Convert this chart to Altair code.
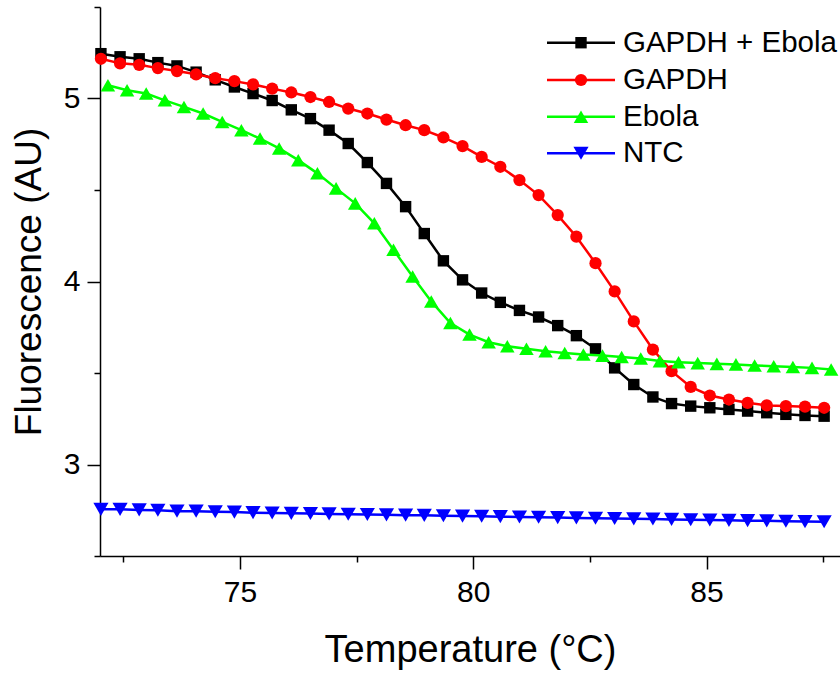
import altair as alt
import pandas as pd

# ---- data ----
temp = [72.02, 72.43, 72.84, 73.24, 73.65, 74.06, 74.47, 74.88, 75.28, 75.69,
        76.10, 76.51, 76.91, 77.32, 77.73, 78.14, 78.55, 78.95, 79.36, 79.77,
        80.18, 80.58, 80.99, 81.40, 81.81, 82.21, 82.62, 83.03, 83.44, 83.85,
        84.25, 84.66, 85.07, 85.48, 85.88, 86.29, 86.70, 87.11, 87.52]

temp_ebola = [72.17, 72.58, 72.99, 73.39, 73.80, 74.21, 74.62, 75.03, 75.43, 75.84,
              76.25, 76.66, 77.06, 77.47, 77.88, 78.29, 78.70, 79.10, 79.51, 79.92,
              80.33, 80.73, 81.14, 81.55, 81.96, 82.36, 82.77, 83.18, 83.59, 84.00,
              84.40, 84.81, 85.22, 85.63, 86.03, 86.44, 86.85, 87.26, 87.67]

gapdh_ebola = [5.245, 5.228, 5.217, 5.196, 5.178, 5.144, 5.102, 5.063, 5.027, 4.989,
               4.938, 4.890, 4.827, 4.754, 4.650, 4.536, 4.409, 4.262, 4.113, 4.009,
               3.937, 3.886, 3.842, 3.806, 3.759, 3.704, 3.632, 3.528, 3.437, 3.369,
               3.333, 3.319, 3.310, 3.301, 3.292, 3.283, 3.274, 3.268, 3.264]

gapdh = [5.217, 5.192, 5.184, 5.166, 5.150, 5.132, 5.111, 5.095, 5.077, 5.054,
         5.033, 5.008, 4.981, 4.945, 4.918, 4.885, 4.854, 4.827, 4.787, 4.740,
         4.681, 4.627, 4.554, 4.472, 4.363, 4.245, 4.100, 3.946, 3.782, 3.628,
         3.510, 3.424, 3.377, 3.355, 3.337, 3.323, 3.319, 3.316, 3.310]

ebola = [5.072, 5.045, 5.027, 4.990, 4.954, 4.918, 4.872, 4.827, 4.781, 4.727,
         4.663, 4.591, 4.509, 4.427, 4.318, 4.173, 4.027, 3.891, 3.773, 3.710,
         3.668, 3.646, 3.632, 3.619, 3.609, 3.601, 3.595, 3.587, 3.579, 3.565,
         3.559, 3.554, 3.550, 3.547, 3.541, 3.537, 3.533, 3.528, 3.519]

ntc = [2.755, 2.755, 2.752, 2.750, 2.745, 2.745, 2.742, 2.740, 2.737, 2.735,
       2.733, 2.732, 2.730, 2.728, 2.727, 2.725, 2.723, 2.722, 2.720, 2.718,
       2.717, 2.715, 2.713, 2.712, 2.710, 2.708, 2.706, 2.705, 2.703, 2.702,
       2.700, 2.698, 2.697, 2.695, 2.693, 2.692, 2.690, 2.688, 2.687]

names = ["GAPDH + Ebola", "GAPDH", "Ebola", "NTC"]
colors = ["#000000", "#ff0000", "#00ff00", "#0000ff"]
shapes = ["square", "circle", "triangle-up", "triangle-down"]
sizes = [130, 150, 210, 230]
x_ticks = [72.5, 75, 77.5, 80, 82.5, 85, 87.5]
y_ticks = [2.5, 3, 3.5, 4, 4.5, 5, 5.5]

series_x = [temp, temp, temp_ebola, temp]
series_y = [gapdh_ebola, gapdh, ebola, ntc]

# ---- layout ----
W, H = 740, 549
FONT = "Liberation Sans"

xscale = alt.Scale(domain=[72, 87.86], nice=False, zero=False)
yscale = alt.Scale(domain=[2.5, 5.5], nice=False, zero=False)

xaxis = alt.Axis(
    values=x_ticks,
    labelExpr="datum.value % 5 == 0 ? format(datum.value, 'd') : ''",
    tickSize={"condition": {"test": "datum.value % 5 == 0", "value": 13}, "value": 6},
    labelPadding=8, labelFontSize=30, labelOverlap=False, labelFlush=False,
    title="Temperature (°C)", titleFontSize=38, titleX=370, titleY=105,
    titleBaseline="alphabetic", grid=False,
)
yaxis = alt.Axis(
    values=y_ticks,
    labelExpr="datum.value % 1 == 0 ? format(datum.value, 'd') : ''",
    tickSize={"condition": {"test": "datum.value % 1 == 0", "value": 13}, "value": 6},
    labelPadding=7, labelFontSize=30, labelOverlap=False, labelFlush=False,
    title="Fluorescence (AU)", titleFontSize=37, titleX=-60, titleY=H / 2,
    titleAngle=270, titleAlign="center", titleBaseline="alphabetic", grid=False,
)

layers = []
for name, xs, ys, col, shp, sz in zip(names, series_x, series_y, colors, shapes, sizes):
    df = pd.DataFrame({"T": xs, "F": ys})
    enc = dict(
        x=alt.X("T:Q", scale=xscale, axis=xaxis),
        y=alt.Y("F:Q", scale=yscale, axis=yaxis),
    )
    layers.append(alt.Chart(df).mark_line(color=col, strokeWidth=2.5).encode(**enc))
    layers.append(
        alt.Chart(df).mark_point(shape=shp, filled=True, size=sz, color=col,
                                 opacity=1, strokeWidth=0).encode(**enc)
    )

# ---- manual legend (line + marker + label) ----
leg_rows = [35.7, 73.0, 109.7, 146.3]
one = pd.DataFrame({"a": [0]})
for name, col, shp, sz, ly in zip(names, colors, shapes, sizes, leg_rows):
    layers.append(alt.Chart(one).mark_rule(color=col, strokeWidth=2.5).encode(
        x=alt.value(447), x2=alt.value(515), y=alt.value(ly)))
    layers.append(alt.Chart(one).mark_point(shape=shp, filled=True, size=sz, color=col,
                                            opacity=1, strokeWidth=0).encode(
        x=alt.value(481), y=alt.value(ly)))
    layers.append(alt.Chart(one).mark_text(align="left", baseline="middle", fontSize=29.5,
                                           font=FONT, color="#000000").encode(
        x=alt.value(523), y=alt.value(ly), text=alt.value(name)))

chart = alt.layer(*layers).properties(
    width=W, height=H,
    autosize=alt.AutoSizeParams(type="none"),
    padding={"left": 100, "top": 7, "right": 0, "bottom": 117},
).configure_view(stroke=None).configure_axis(
    labelFont=FONT, titleFont=FONT, labelColor="#000000", titleColor="#000000",
    domainColor="#000000", tickColor="#000000", domainWidth=1.5, tickWidth=1.5,
    titleFontWeight="normal",
)

chart.save("out.html", embed_options={"renderer": "svg", "actions": False})
